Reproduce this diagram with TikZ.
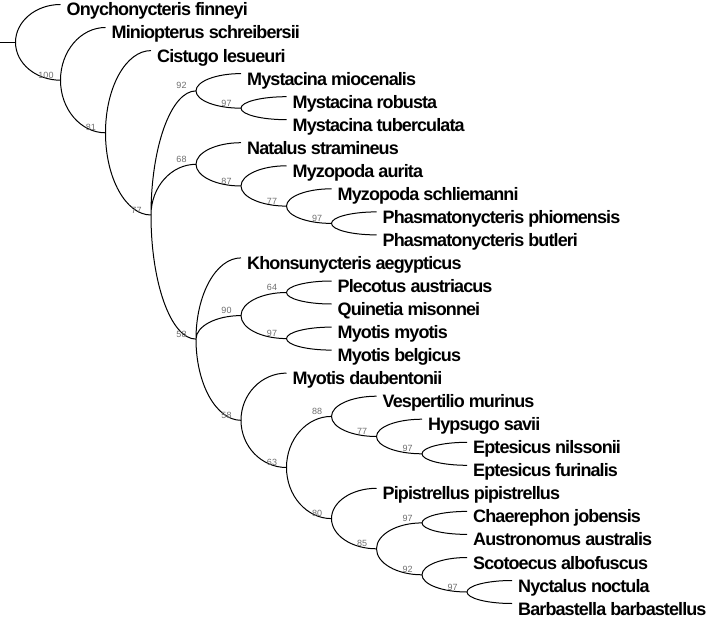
\documentclass[tikz,border=0pt]{standalone}
\usepackage{fontspec}
\setmainfont{Liberation Sans}
\newfontfamily\taxonfont{Liberation Sans}[LetterSpace=-5]
\usepackage{tikz}
\usetikzlibrary{calc}
\definecolor{bootgray}{RGB}{110,110,110}

\begin{document}
\begin{tikzpicture}[
  x=1pt, y=-1pt,
  taxon/.style={anchor=base west, inner sep=0pt, xshift=6pt, yshift=-11.5pt, font=\taxonfont\fontsize{18}{20}\selectfont\bfseries},
  support/.style={inner sep=0pt, xshift=-14.5pt, yshift=5pt, font=\fontsize{9}{10}\selectfont, text=bootgray},
  branch/.style={line width=1pt, to path={.. controls ($(\tikztostart)!0.552!(\tikztostart |- \tikztotarget)$) and ($(\tikztotarget)!0.552!(\tikztostart |- \tikztotarget)$) .. (\tikztotarget)}}
]
  \useasboundingbox (0,0) rectangle (711,617);

  % Internal nodes
  \coordinate (stem) at (0,42.3);
  \coordinate (root) at (15.5,42.3);
  \coordinate (n100) at (60.5,80.2);
  \coordinate (n81) at (105.5,132.8);
  \coordinate (n77) at (151,215);
  \coordinate (n92) at (196,90.9);
  \coordinate (n97a) at (241,108.2);
  \coordinate (n68) at (196,164.3);
  \coordinate (n87) at (241,186);
  \coordinate (n77b) at (286.5,206.1);
  \coordinate (n97b) at (331.5,223.4);
  \coordinate (n58) at (196,339.1);
  \coordinate (n90) at (241,315.6);
  \coordinate (n64) at (286.5,292.5);
  \coordinate (n97c) at (286.5,338.6);
  \coordinate (n58b) at (241,420.3);
  \coordinate (n63) at (286.5,467.5);
  \coordinate (n88) at (331.5,416.4);
  \coordinate (n77c) at (376.5,436.5);
  \coordinate (n97d) at (422,453.8);
  \coordinate (n80) at (331.5,518.6);
  \coordinate (n85) at (376.5,548.8);
  \coordinate (n97e) at (422,522.9);
  \coordinate (n92b) at (422,574.8);
  \coordinate (n97f) at (467,592);

  % Tips
  \coordinate (onych) at (60.5,4.5);
  \coordinate (minio) at (105.5,27.5);
  \coordinate (cist) at (151,50.6);
  \coordinate (mmio) at (241,73.6);
  \coordinate (mrob) at (286.5,96.7);
  \coordinate (mtub) at (286.5,119.7);
  \coordinate (natal) at (241,142.7);
  \coordinate (myzau) at (286.5,165.8);
  \coordinate (myzsc) at (331.5,188.8);
  \coordinate (phphi) at (376.5,211.9);
  \coordinate (phbut) at (376.5,234.9);
  \coordinate (khons) at (241,257.9);
  \coordinate (plec) at (331.5,281.0);
  \coordinate (quin) at (331.5,304.0);
  \coordinate (mmyo) at (331.5,327.1);
  \coordinate (mbel) at (331.5,350.1);
  \coordinate (mdau) at (286.5,373.1);
  \coordinate (vesp) at (376.5,396.2);
  \coordinate (hyps) at (422,419.2);
  \coordinate (eptni) at (467,442.3);
  \coordinate (eptfu) at (467,465.3);
  \coordinate (pipi) at (376.5,488.3);
  \coordinate (chae) at (467,511.4);
  \coordinate (aust) at (467,534.4);
  \coordinate (scot) at (467,557.5);
  \coordinate (nyct) at (512,580.5);
  \coordinate (barb) at (512,603.5);

  % Taxa
  \node[taxon] (onych-lab) at (onych) {Onychonycteris finneyi};
  \node[taxon] (minio-lab) at (minio) {Miniopterus schreibersii};
  \node[taxon] (cist-lab) at (cist) {Cistugo lesueuri};
  \node[taxon] (mmio-lab) at (mmio) {Mystacina miocenalis};
  \node[taxon] (mrob-lab) at (mrob) {Mystacina robusta};
  \node[taxon] (mtub-lab) at (mtub) {Mystacina tuberculata};
  \node[taxon] (natal-lab) at (natal) {Natalus stramineus};
  \node[taxon] (myzau-lab) at (myzau) {Myzopoda aurita};
  \node[taxon] (myzsc-lab) at (myzsc) {Myzopoda schliemanni};
  \node[taxon] (phphi-lab) at (phphi) {Phasmatonycteris phiomensis};
  \node[taxon] (phbut-lab) at (phbut) {Phasmatonycteris butleri};
  \node[taxon] (khons-lab) at (khons) {Khonsunycteris aegypticus};
  \node[taxon] (plec-lab) at (plec) {Plecotus austriacus};
  \node[taxon] (quin-lab) at (quin) {Quinetia misonnei};
  \node[taxon] (mmyo-lab) at (mmyo) {Myotis myotis};
  \node[taxon] (mbel-lab) at (mbel) {Myotis belgicus};
  \node[taxon] (mdau-lab) at (mdau) {Myotis daubentonii};
  \node[taxon] (vesp-lab) at (vesp) {Vespertilio murinus};
  \node[taxon] (hyps-lab) at (hyps) {Hypsugo savii};
  \node[taxon] (eptni-lab) at (eptni) {Eptesicus nilssonii};
  \node[taxon] (eptfu-lab) at (eptfu) {Eptesicus furinalis};
  \node[taxon] (pipi-lab) at (pipi) {Pipistrellus pipistrellus};
  \node[taxon] (chae-lab) at (chae) {Chaerephon jobensis};
  \node[taxon] (aust-lab) at (aust) {Austronomus australis};
  \node[taxon] (scot-lab) at (scot) {Scotoecus albofuscus};
  \node[taxon] (nyct-lab) at (nyct) {Nyctalus noctula};
  \node[taxon] (barb-lab) at (barb) {Barbastella barbastellus};

  % Branches
  \draw[line width=1pt] (stem) -- (root);
  \draw[branch] (root) to (onych) (root) to (n100);
  \draw[branch] (n100) to (minio) (n100) to (n81);
  \draw[branch] (n81) to (cist) (n81) to (n77);
  \draw[branch] (n77) to (n92) (n77) to (n68) (n77) to (n58);
  \draw[branch] (n92) to (mmio) (n92) to (n97a);
  \draw[branch] (n97a) to (mrob) (n97a) to (mtub);
  \draw[branch] (n68) to (natal) (n68) to (n87);
  \draw[branch] (n87) to (myzau) (n87) to (n77b);
  \draw[branch] (n77b) to (myzsc) (n77b) to (n97b);
  \draw[branch] (n97b) to (phphi) (n97b) to (phbut);
  \draw[branch] (n58) to (khons) (n58) to (n90) (n58) to (n58b);
  \draw[branch] (n90) to (n64) (n90) to (n97c);
  \draw[branch] (n64) to (plec) (n64) to (quin);
  \draw[branch] (n97c) to (mmyo) (n97c) to (mbel);
  \draw[branch] (n58b) to (mdau) (n58b) to (n63);
  \draw[branch] (n63) to (n88) (n63) to (n80);
  \draw[branch] (n88) to (vesp) (n88) to (n77c);
  \draw[branch] (n77c) to (hyps) (n77c) to (n97d);
  \draw[branch] (n97d) to (eptni) (n97d) to (eptfu);
  \draw[branch] (n80) to (pipi) (n80) to (n85);
  \draw[branch] (n85) to (n97e) (n85) to (n92b);
  \draw[branch] (n97e) to (chae) (n97e) to (aust);
  \draw[branch] (n92b) to (scot) (n92b) to (n97f);
  \draw[branch] (n97f) to (nyct) (n97f) to (barb);

  % Support values
  \node[support] (s100) at (n100) {100};
  \node[support] (s81) at (n81) {81};
  \node[support] (s77) at (n77) {77};
  \node[support] (s92) at (n92) {92};
  \node[support] (s97a) at (n97a) {97};
  \node[support] (s68) at (n68) {68};
  \node[support] (s87) at (n87) {87};
  \node[support] (s77b) at (n77b) {77};
  \node[support] (s97b) at (n97b) {97};
  \node[support] (s58) at (n58) {58};
  \node[support] (s90) at (n90) {90};
  \node[support] (s64) at (n64) {64};
  \node[support] (s97c) at (n97c) {97};
  \node[support] (s58b) at (n58b) {58};
  \node[support] (s63) at (n63) {63};
  \node[support] (s88) at (n88) {88};
  \node[support] (s77c) at (n77c) {77};
  \node[support] (s97d) at (n97d) {97};
  \node[support] (s80) at (n80) {80};
  \node[support] (s85) at (n85) {85};
  \node[support] (s97e) at (n97e) {97};
  \node[support] (s92b) at (n92b) {92};
  \node[support] (s97f) at (n97f) {97};
\end{tikzpicture}
\end{document}
